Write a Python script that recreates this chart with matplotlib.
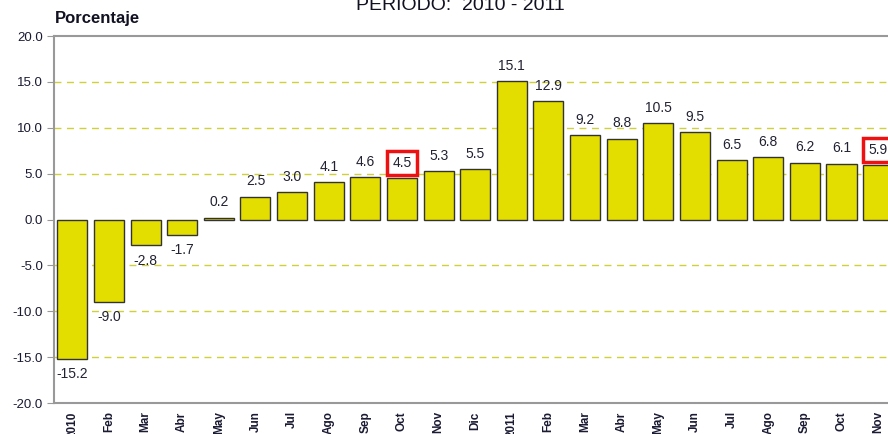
import matplotlib.pyplot as plt
import numpy as np

plt.rcParams['font.family'] = ['Liberation Sans', 'DejaVu Sans']

meses = ["2010", "Feb", "Mar", "Abr", "May", "Jun", "Jul", "Ago", "Sep", "Oct", "Nov", "Dic",
         "2011", "Feb", "Mar", "Abr", "May", "Jun", "Jul", "Ago", "Sep", "Oct", "Nov"]
valores = [-15.2, -9.0, -2.8, -1.7, 0.2, 2.5, 3.0, 4.1, 4.6, 4.5, 5.3, 5.5,
           15.1, 12.9, 9.2, 8.8, 10.5, 9.5, 6.5, 6.8, 6.2, 6.1, 5.9]
resaltados = [9, 22]  # labels boxed in red

fig = plt.figure(figsize=(8.88, 4.34), dpi=100)
ax = fig.add_axes([0.0608, 0.0714, 0.9392, 0.8456])

x = np.arange(len(meses))
ax.bar(x, valores, width=0.82, color="#E3DD00", edgecolor="#333333", linewidth=1.0, zorder=3)

for i, v in enumerate(valores):
    if v >= 0:
        off, va = 6, "bottom"
    else:
        off, va = -6, "top"
    kw = {}
    if i in resaltados:
        kw["bbox"] = dict(boxstyle="square,pad=0.38", fc="white", ec="#EE1111", lw=2.5)
    ax.annotate(f"{v:.1f}", (i, v), xytext=(0, off), textcoords="offset points",
                ha="center", va=va, fontsize=10, color="#222233", zorder=5, **kw)

ax.set_ylim(-20, 20)
ax.set_xlim(-0.5, 22.27)
ax.set_yticks(np.arange(-20, 21, 5))
ax.set_yticklabels([f"{t:.1f}" for t in np.arange(-20, 21, 5)], fontsize=9.5, color="#1a1a33")
ax.set_xticks(x)
ax.set_xticklabels(meses, rotation=90, fontsize=8.5, fontweight="bold", color="#1a1a33")
ax.tick_params(axis="x", length=0, pad=6)
ax.tick_params(axis="y", length=5, color="#999999", pad=3)

for t in [-15, -10, -5, 5, 10, 15]:
    ax.axhline(t, color="#D0D038", linestyle=(0, (5, 4)), linewidth=1.0, zorder=1)

for s in ["left", "top", "bottom"]:
    ax.spines[s].set_color("#999999")
    ax.spines[s].set_linewidth(1.5)
ax.spines["right"].set_visible(False)

fig.text(0.062, 0.958, "Porcentaje", fontsize=12, fontweight="bold", color="#111122",
         ha="left", va="center")
fig.text(0.518, 0.977, "PERIODO:  2010 - 2011", fontsize=14, color="#111122",
         ha="center", va="baseline")

fig.savefig("out.png", dpi=100)
